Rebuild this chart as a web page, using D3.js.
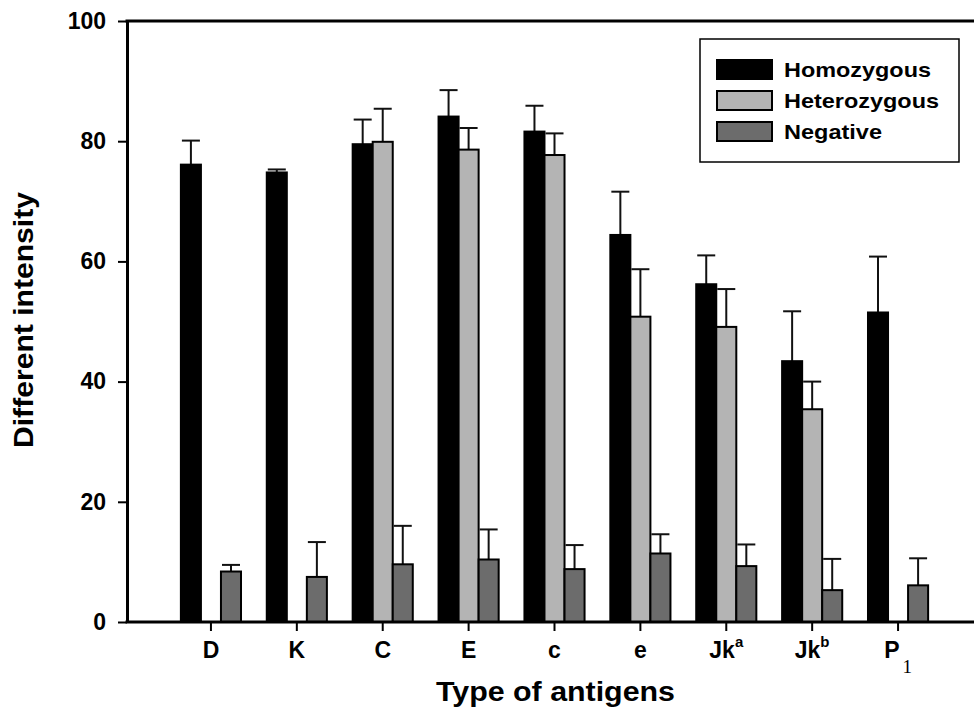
<!DOCTYPE html>
<html>
<head>
<meta charset="utf-8">
<script src="https://cdn.jsdelivr.net/npm/d3@7"></script>
<style>
	body { margin: 0; background: #fff; }
	svg { display: block; }
	text { font-family: "Liberation Sans", Arial, sans-serif; font-weight: bold; fill: #000; }
</style>
</head>
<body>
<svg id="chart" width="974" height="711"></svg>
<script>
// categories and their printed labels (main text + super/subscript)
var categories = ["D", "K", "C", "E", "c", "e", "Jka", "Jkb", "P1"];
var tickMain = ["D", "K", "C", "E", "c", "e", "Jk", "Jk", "P"];
var tickSup = ["", "", "", "", "", "", "a", "b", ""];
var tickSub = ["", "", "", "", "", "", "", "", "1"];

var seriesNames = ["Homozygous", "Heterozygous", "Negative"];
var seriesColors = ["#000000", "#b4b4b4", "#6c6c6c"];

// means and error bars (null = not measured)
var homozygous = [76.1, 74.8, 79.5, 84.1, 81.6, 64.4, 56.2, 43.4, 51.5];
var homozygousErr = [4.0, 0.5, 4.1, 4.4, 4.3, 7.2, 4.8, 8.3, 9.3];
var heterozygous = [null, null, 79.9, 78.6, 77.7, 50.8, 49.1, 35.4, null];
var heterozygousErr = [null, null, 5.5, 3.6, 3.6, 7.9, 6.3, 4.6, null];
var negative = [8.4, 7.5, 9.6, 10.4, 8.8, 11.4, 9.3, 5.3, 6.1];
var negativeErr = [1.1, 5.8, 6.4, 5.0, 4.0, 3.2, 3.6, 5.2, 4.5];

var yTicks = [0, 20, 40, 60, 80, 100];

var svg = d3.select("#chart");

var plotLeft = 127, plotTop = 21, plotBottom = 622, plotRight = 974;

var y = d3.scaleLinear().domain([0, 100]).range([plotBottom, plotTop]);

var x0 = d3.scaleBand()
	.domain(categories)
	.range([168, 941])
	.paddingInner(0.3)
	.paddingOuter(0.15);

var x1 = d3.scaleBand()
	.domain(seriesNames)
	.range([0, x0.bandwidth()]);

var values = [homozygous, heterozygous, negative];
var errors = [homozygousErr, heterozygousErr, negativeErr];

var rows = [];
categories.forEach(function (cat, i) {
	seriesNames.forEach(function (s, j) {
		if (values[j][i] == null) return;
		rows.push({cat: cat, series: s, color: seriesColors[j], value: values[j][i], err: errors[j][i]});
	});
});

// error bars first (upper only), bars drawn on top
var errG = svg.append("g").attr("stroke", "#111").attr("stroke-width", 2);
rows.forEach(function (d) {
	var cx = x0(d.cat) + x1(d.series) + x1.bandwidth() / 2;
	errG.append("line")
		.attr("x1", cx).attr("x2", cx)
		.attr("y1", y(d.value)).attr("y2", y(d.value + d.err));
	errG.append("line")
		.attr("x1", cx - 9).attr("x2", cx + 9)
		.attr("y1", y(d.value + d.err)).attr("y2", y(d.value + d.err));
});

svg.append("g").selectAll("rect")
	.data(rows)
	.join("rect")
	.attr("x", function (d) { return x0(d.cat) + x1(d.series); })
	.attr("y", function (d) { return y(d.value); })
	.attr("width", x1.bandwidth())
	.attr("height", function (d) { return y(0) - y(d.value); })
	.attr("fill", function (d) { return d.color; })
	.attr("stroke", "#000")
	.attr("stroke-width", 2);

// y axis
var yAxis = svg.append("g")
	.attr("transform", "translate(" + plotLeft + ",0)")
	.call(d3.axisLeft(y).tickValues(yTicks).tickSize(9).tickSizeOuter(0).tickPadding(12));
yAxis.select(".domain").attr("stroke-width", 3);
yAxis.selectAll(".tick line").attr("stroke-width", 2);
yAxis.selectAll(".tick text")
	.style("font-size", "23px")
	.attr("fill", "#000");

// x axis
var xAxis = svg.append("g")
	.attr("transform", "translate(0," + plotBottom + ")")
	.call(d3.axisBottom(x0).tickSize(9).tickSizeOuter(0));
xAxis.select(".domain").remove();
xAxis.selectAll(".tick line").attr("stroke-width", 2);
xAxis.selectAll(".tick text")
	.attr("y", 36)
	.attr("dy", 0)
	.style("font-size", "23px")
	.attr("fill", "#000")
	.each(function (d) {
		var i = categories.indexOf(d);
		var t = d3.select(this).text(null);
		t.append("tspan").text(tickMain[i]);
		if (tickSup[i]) {
			t.append("tspan").attr("dy", -11).style("font-size", "15px").text(tickSup[i]);
		}
		if (tickSub[i]) {
			t.append("tspan").attr("dx", 3).attr("dy", 15)
				.style("font-family", "'Liberation Serif', 'Times New Roman', serif")
				.style("font-weight", "normal")
				.style("font-size", "19px")
				.text(tickSub[i]);
		}
	});

// frame lines
svg.append("line").attr("x1", plotLeft - 1.5).attr("x2", plotRight).attr("y1", plotBottom).attr("y2", plotBottom)
	.attr("stroke", "#000").attr("stroke-width", 3);
svg.append("line").attr("x1", plotLeft - 1.5).attr("x2", plotRight).attr("y1", plotTop).attr("y2", plotTop)
	.attr("stroke", "#000").attr("stroke-width", 3);

// axis titles
svg.append("text")
	.attr("transform", "translate(33,320) rotate(-90)")
	.attr("text-anchor", "middle")
	.attr("textLength", 256)
	.attr("lengthAdjust", "spacingAndGlyphs")
	.style("font-size", "28px")
	.text("Different intensity");

svg.append("text")
	.attr("x", 555.5)
	.attr("y", 701)
	.attr("text-anchor", "middle")
	.attr("textLength", 239)
	.attr("lengthAdjust", "spacingAndGlyphs")
	.style("font-size", "27px")
	.text("Type of antigens");

// legend
var legendWidths = [147, 155, 98];
var legend = svg.append("g");
legend.append("rect")
	.attr("x", 700).attr("y", 39).attr("width", 259).attr("height", 123)
	.attr("fill", "#fff").attr("stroke", "#000").attr("stroke-width", 1.5);
seriesNames.forEach(function (s, i) {
	var ly = 60 + i * 31;
	legend.append("rect")
		.attr("x", 717).attr("y", ly).attr("width", 55).attr("height", 19)
		.attr("fill", seriesColors[i]).attr("stroke", "#000").attr("stroke-width", 2);
	legend.append("text")
		.attr("x", 784).attr("y", ly + 17)
		.attr("textLength", legendWidths[i])
		.attr("lengthAdjust", "spacingAndGlyphs")
		.style("font-size", "21px")
		.text(s);
});
</script>
</body>
</html>
